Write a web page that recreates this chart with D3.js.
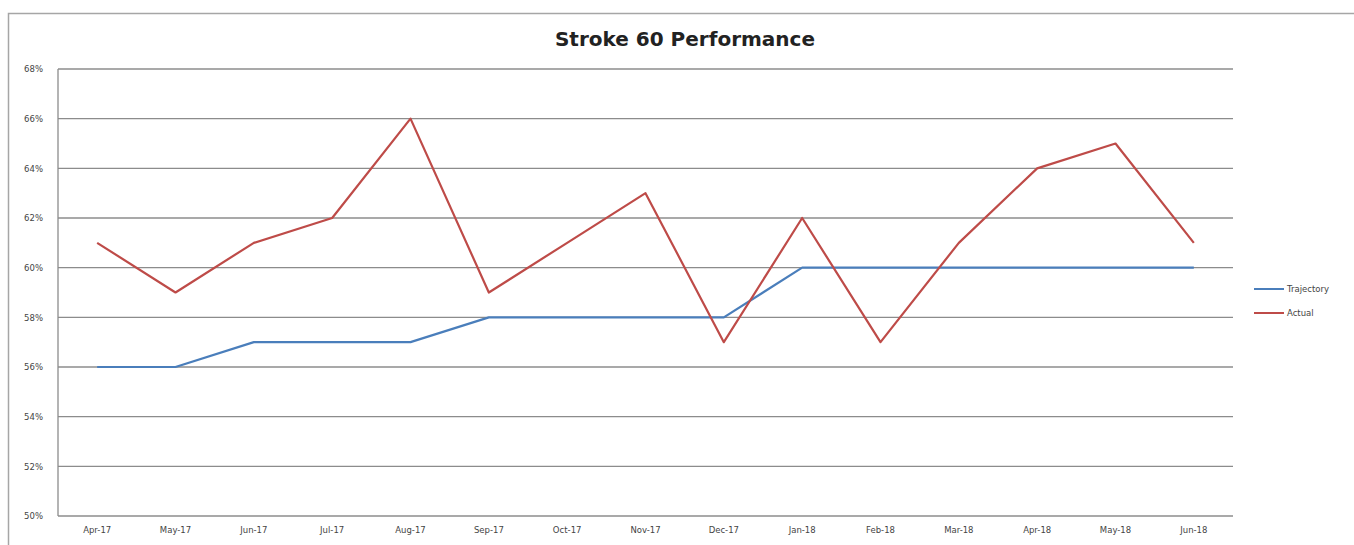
<!DOCTYPE html>
<html><head><meta charset="utf-8">
<script src="https://cdn.jsdelivr.net/npm/d3@7"></script>
<style>body{margin:0;background:#fff}svg{display:block}</style>
</head><body>
<script>
const categories = ["Apr-17","May-17","Jun-17","Jul-17","Aug-17","Sep-17","Oct-17","Nov-17","Dec-17","Jan-18","Feb-18","Mar-18","Apr-18","May-18","Jun-18"];
const trajectory = [56,56,57,57,57,58,58,58,58,60,60,60,60,60,60];
const actual = [61,59,61,62,66,59,61,63,57,62,57,61,64,65,61];
const yTicks = [50,52,54,56,58,60,62,64,66,68];
const seriesNames = ["Trajectory","Actual"];
const colors = ["#4A7EBB","#BE4B48"];

const W=1354,H=545;
const svg=d3.select("body").append("svg").attr("width",W).attr("height",H);
// outer border
svg.append("rect").attr("x",8.5).attr("y",13.5).attr("width",1360).attr("height",560)
  .attr("fill","#fff").attr("stroke","#a6a6a6").attr("stroke-width",1.5);

const L=58,R=1233,T=69,B=516;
const x=d3.scaleBand().domain(categories).range([L,R]);
const y=d3.scaleLinear().domain([50,68]).range([B,T]);
const font="Verdana, DejaVu Sans, sans-serif";

// gridlines
svg.append("g").selectAll("line").data(yTicks).join("line")
  .attr("x1",L).attr("x2",R).attr("y1",d=>y(d)).attr("y2",d=>y(d))
  .attr("stroke","#8c8c8c").attr("stroke-width",1.3);
// y axis line
svg.append("line").attr("x1",L).attr("x2",L).attr("y1",T).attr("y2",B).attr("stroke","#8c8c8c").attr("stroke-width",1.3);

const yAxis=svg.append("g").attr("transform",`translate(${L},0)`)
  .call(d3.axisLeft(y).tickValues(yTicks).tickFormat(d=>d+"%").tickSize(0).tickPadding(15));
yAxis.select(".domain").remove();
yAxis.selectAll("text").attr("font-family",font).attr("font-size",8.5).attr("fill","#444");

const xAxis=svg.append("g").attr("transform",`translate(0,${B})`)
  .call(d3.axisBottom(x).tickSize(0).tickPadding(11));
xAxis.select(".domain").remove();
xAxis.selectAll("text").attr("font-family",font).attr("font-size",8.5).attr("fill","#444");

const line=d3.line().x((d,i)=>x(categories[i])+x.bandwidth()/2).y(d=>y(d));
[trajectory,actual].forEach((s,k)=>{
  svg.append("path").datum(s).attr("d",line).attr("fill","none")
    .attr("stroke",colors[k]).attr("stroke-width",2.2).attr("stroke-linejoin","round");
});

// title
svg.append("text").attr("x",685).attr("y",46).attr("text-anchor","middle")
  .attr("font-family",font).attr("font-weight","bold").attr("font-size",20)
  .attr("fill","#222").text("Stroke 60 Performance");

// legend
const lg=svg.append("g");
seriesNames.forEach((n,k)=>{
  const yy=289+k*24;
  lg.append("line").attr("x1",1254).attr("x2",1284).attr("y1",yy).attr("y2",yy).attr("stroke",colors[k]).attr("stroke-width",2);
  lg.append("text").attr("x",1287).attr("y",yy+3).attr("font-family",font)
    .attr("font-size",8.5).attr("fill","#444").text(n);
});
</script>
</body></html>
